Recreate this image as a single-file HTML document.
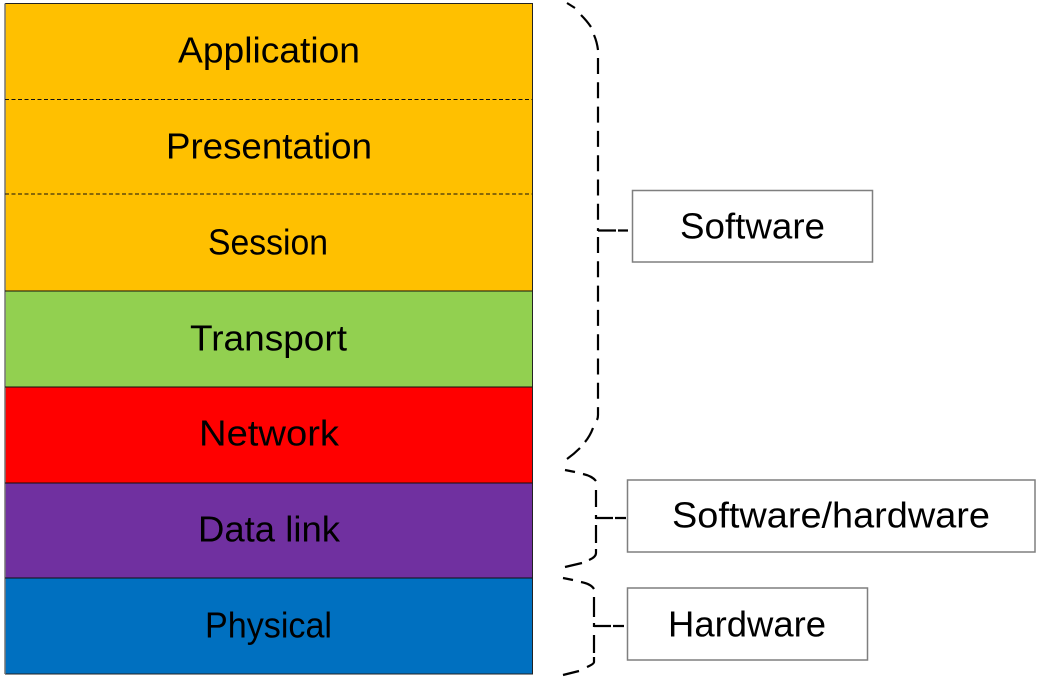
<!DOCTYPE html>
<html>
<head>
<meta charset="utf-8">
<style>
html,body{margin:0;padding:0;background:#fff;width:1041px;height:683px;overflow:hidden}
svg{display:block}
text{font-family:"Liberation Sans",sans-serif;font-size:36px;fill:#000}
</style>
</head>
<body>
<svg width="1041" height="683" viewBox="0 0 1041 683" xmlns="http://www.w3.org/2000/svg">
<rect x="5" y="3.500" width="527.500" height="287.500" fill="#FFC000"/>
<rect x="5" y="291" width="527.500" height="96" fill="#92D050"/>
<rect x="5" y="387" width="527.500" height="96" fill="#FF0000"/>
<rect x="5" y="483" width="527.500" height="95" fill="#7030A0"/>
<rect x="5" y="578" width="527.500" height="96" fill="#0070C0"/>
<g fill="none" stroke="#111" stroke-width="1">
<path d="M5 3.500H532.500V674H5" stroke="#222"/>
<path d="M5 3.500V674" stroke="#777" stroke-width="1.500"/>
<path d="M5 291H532.500M5 387H532.500M5 483H532.500M5 578H532.500"/>
<path d="M5 99.500H532.500M5 194H532.500" stroke-dasharray="4 2.500"/>
</g>
<g fill="none" stroke="#000" stroke-width="2.200">
<path d="M567 3L575 8M581 15Q587 21 591 27M594 35Q597 42 598 50"/>
<path d="M598 58V231" stroke-dasharray="16 8.300"/>
<path d="M598 237V415" stroke-dasharray="16 8.300"/>
<path d="M598 415Q598 418 597 420M593 428Q590 436 585 442M580 448Q574 454 567 459"/>
<path d="M598 230.500H616M618 230.500H628"/>
<path d="M565 470L575 472M583 474Q592 476 596 481M596 490V507M596 515V519M596 525V543M596 549V553Q596 557 589 560M582 563L565 567"/>
<path d="M596 518H613M615 518H626"/>
<path d="M563 578L573 580M581 582Q591 584 594 589M594 597V617M594 623V627M594 635V653M594 657V662Q594 664 587 667M579 671L563 675"/>
<path d="M594 626H611M613 626H624"/>
</g>
<g fill="#fff" stroke="#7f7f7f" stroke-width="1.500">
<rect x="632.500" y="190.500" width="240" height="71.500"/>
<rect x="627.500" y="480" width="407.500" height="72"/>
<rect x="627.500" y="588" width="240" height="72"/>
</g>
<text x="178" y="62.500" textLength="182" lengthAdjust="spacingAndGlyphs">Application</text>
<text x="166" y="158.500" textLength="206" lengthAdjust="spacingAndGlyphs">Presentation</text>
<text x="208" y="254.500" textLength="120" lengthAdjust="spacingAndGlyphs">Session</text>
<text x="190" y="350.500" textLength="157" lengthAdjust="spacingAndGlyphs">Transport</text>
<text x="199" y="445.500" textLength="140" lengthAdjust="spacingAndGlyphs">Network</text>
<text x="198" y="541.500" textLength="142" lengthAdjust="spacingAndGlyphs">Data link</text>
<text x="205" y="637.500" textLength="127" lengthAdjust="spacingAndGlyphs">Physical</text>
<text x="680" y="238.500" textLength="145" lengthAdjust="spacingAndGlyphs">Software</text>
<text x="672" y="527.500" textLength="318" lengthAdjust="spacingAndGlyphs">Software/hardware</text>
<text x="668" y="636.500" textLength="158" lengthAdjust="spacingAndGlyphs">Hardware</text>
</svg>
</body>
</html>
